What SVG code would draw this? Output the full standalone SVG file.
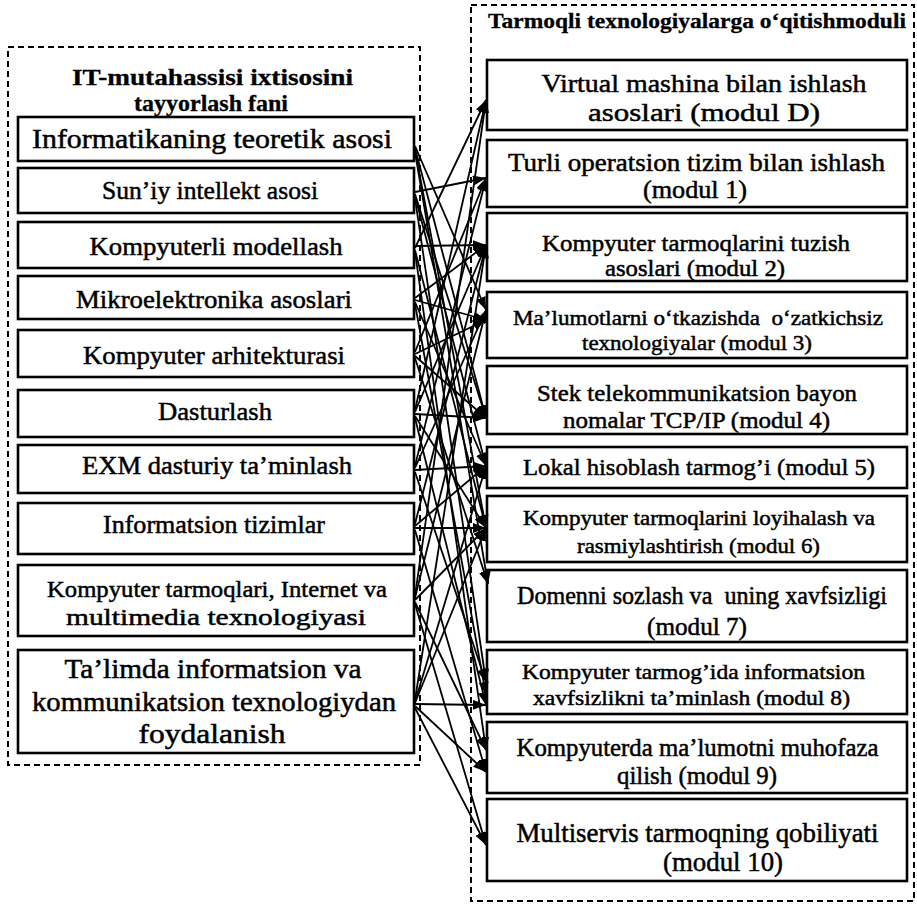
<svg xmlns="http://www.w3.org/2000/svg" width="917" height="904" viewBox="0 0 917 904">
<style>
text{font-family:"Liberation Serif","Times New Roman",serif;fill:#000;text-anchor:middle;stroke:#000;stroke-width:0.5}
.t{font-weight:bold;stroke-width:0.3}
.box{fill:#fff;stroke:#000;stroke-width:2.6}
.dash{fill:none;stroke:#000;stroke-width:2;stroke-dasharray:6 4}
.c line{stroke:#000;stroke-width:1.8;marker-end:url(#ah)}
</style>
<defs>
<marker id="ah" markerUnits="userSpaceOnUse" markerWidth="14" markerHeight="10" refX="13" refY="5" orient="auto">
<path d="M0,0 L13,5 L0,10 z" fill="#000"/>
</marker>
</defs>
<rect class="dash" x="8" y="47" width="412" height="718"/>
<rect class="dash" x="471" y="5" width="443" height="896"/>
<g id="left-title">
<text class="t" x="212.5" y="85" font-size="24" textLength="281" lengthAdjust="spacingAndGlyphs">IT-mutahassisi ixtisosini</text>
<text class="t" x="211" y="111" font-size="24" textLength="154" lengthAdjust="spacingAndGlyphs">tayyorlash fani</text>
</g>
<g id="right-title">
<text class="t" x="697" y="28" font-size="22" textLength="418" lengthAdjust="spacingAndGlyphs">Tarmoqli texnologiyalarga o‘qitishmoduli</text>
</g>
<g id="L1"><rect class="box" x="18" y="117" width="396" height="44"/><text x="212" y="148" font-size="27" textLength="360" lengthAdjust="spacingAndGlyphs">Informatikaning teoretik asosi</text></g>
<g id="L2"><rect class="box" x="18" y="168" width="396" height="45"/><text x="210" y="199" font-size="26" textLength="216" lengthAdjust="spacingAndGlyphs">Sun’iy intellekt asosi</text></g>
<g id="L3"><rect class="box" x="18" y="222" width="396" height="46"/><text x="216" y="255" font-size="26" textLength="253" lengthAdjust="spacingAndGlyphs">Kompyuterli modellash</text></g>
<g id="L4"><rect class="box" x="18" y="276" width="396" height="43"/><text x="214" y="308" font-size="26" textLength="276" lengthAdjust="spacingAndGlyphs">Mikroelektronika asoslari</text></g>
<g id="L5"><rect class="box" x="18" y="330" width="396" height="47"/><text x="214" y="364" font-size="26" textLength="262" lengthAdjust="spacingAndGlyphs">Kompyuter arhitekturasi</text></g>
<g id="L6"><rect class="box" x="18" y="390" width="396" height="47"/><text x="215" y="420" font-size="26" textLength="114" lengthAdjust="spacingAndGlyphs">Dasturlash</text></g>
<g id="L7"><rect class="box" x="18" y="445" width="396" height="48"/><text x="217" y="474" font-size="26" textLength="270" lengthAdjust="spacingAndGlyphs">EXM dasturiy ta’minlash</text></g>
<g id="L8"><rect class="box" x="18" y="503" width="396" height="51"/><text x="214" y="533" font-size="26" textLength="222" lengthAdjust="spacingAndGlyphs">Informatsion tizimlar</text></g>
<g id="L9"><rect class="box" x="18" y="565" width="396" height="71"/><text x="217" y="597" font-size="24" textLength="340" lengthAdjust="spacingAndGlyphs">Kompyuter tarmoqlari, Internet va</text><text x="216" y="625" font-size="24" textLength="300" lengthAdjust="spacingAndGlyphs">multimedia texnologiyasi</text></g>
<g id="L10"><rect class="box" x="18" y="650" width="396" height="103"/><text x="213" y="678" font-size="27" textLength="297" lengthAdjust="spacingAndGlyphs">Ta’limda informatsion va</text><text x="214" y="711" font-size="27" textLength="364" lengthAdjust="spacingAndGlyphs">kommunikatsion texnologiydan</text><text x="212" y="743" font-size="27" textLength="147" lengthAdjust="spacingAndGlyphs">foydalanish</text></g>
<g id="R1"><rect class="box" x="487" y="60" width="420" height="70"/><text x="704" y="92" font-size="26" textLength="325" lengthAdjust="spacingAndGlyphs">Virtual mashina bilan ishlash</text><text x="704" y="121" font-size="26" textLength="232" lengthAdjust="spacingAndGlyphs">asoslari (modul D)</text></g>
<g id="R2"><rect class="box" x="487" y="140" width="420" height="67"/><text x="696.5" y="171" font-size="25" textLength="377" lengthAdjust="spacingAndGlyphs">Turli operatsion tizim bilan ishlash</text><text x="695" y="198" font-size="25" textLength="104" lengthAdjust="spacingAndGlyphs">(modul 1)</text></g>
<g id="R3"><rect class="box" x="487" y="213" width="420" height="68"/><text x="696" y="251" font-size="23" textLength="308" lengthAdjust="spacingAndGlyphs">Kompyuter tarmoqlarini tuzish</text><text x="695" y="276" font-size="23" textLength="180" lengthAdjust="spacingAndGlyphs">asoslari (modul 2)</text></g>
<g id="R4"><rect class="box" x="487" y="292" width="420" height="66"/><text x="698" y="325" font-size="22" textLength="370" lengthAdjust="spacingAndGlyphs" xml:space="preserve">Ma’lumotlarni o‘tkazishda  o‘zatkichsiz</text><text x="697" y="350" font-size="22" textLength="230" lengthAdjust="spacingAndGlyphs">texnologiyalar (modul 3)</text></g>
<g id="R5"><rect class="box" x="487" y="366" width="420" height="68"/><text x="697" y="401" font-size="24" textLength="320" lengthAdjust="spacingAndGlyphs">Stek telekommunikatsion bayon</text><text x="696.5" y="428" font-size="24" textLength="267" lengthAdjust="spacingAndGlyphs">nomalar TCP/IP (modul 4)</text></g>
<g id="R6"><rect class="box" x="487" y="447" width="420" height="41"/><text x="699" y="475" font-size="24" textLength="352" lengthAdjust="spacingAndGlyphs">Lokal hisoblash tarmog’i (modul 5)</text></g>
<g id="R7"><rect class="box" x="487" y="496" width="420" height="66"/><text x="699" y="525" font-size="22" textLength="352" lengthAdjust="spacingAndGlyphs">Kompyuter tarmoqlarini loyihalash va</text><text x="698.5" y="553" font-size="22" textLength="243" lengthAdjust="spacingAndGlyphs">rasmiylashtirish (modul 6)</text></g>
<g id="R8"><rect class="box" x="487" y="570" width="420" height="72"/><text x="702" y="604" font-size="25" textLength="370" lengthAdjust="spacingAndGlyphs" xml:space="preserve">Domenni sozlash va  uning xavfsizligi</text><text x="697" y="635" font-size="25" textLength="100" lengthAdjust="spacingAndGlyphs">(modul 7)</text></g>
<g id="R9"><rect class="box" x="487" y="650" width="420" height="64"/><text x="693.5" y="679" font-size="22" textLength="343" lengthAdjust="spacingAndGlyphs">Kompyuter tarmog’ida informatsion</text><text x="691.5" y="705" font-size="22" textLength="317" lengthAdjust="spacingAndGlyphs">xavfsizlikni ta’minlash (modul 8)</text></g>
<g id="R10"><rect class="box" x="487" y="722" width="420" height="71"/><text x="697.5" y="756" font-size="25" textLength="362" lengthAdjust="spacingAndGlyphs">Kompyuterda ma’lumotni muhofaza</text><text x="697" y="784" font-size="25" textLength="160" lengthAdjust="spacingAndGlyphs">qilish (modul 9)</text></g>
<g id="R11"><rect class="box" x="487" y="799" width="420" height="82"/><text x="697.5" y="842" font-size="27" textLength="362" lengthAdjust="spacingAndGlyphs">Multiservis tarmoqning qobiliyati</text><text x="723" y="871" font-size="27" textLength="120" lengthAdjust="spacingAndGlyphs">(modul 10)</text></g>
<g id="connectors" class="c">
<line x1="415" y1="146" x2="486" y2="310"/>
<line x1="415" y1="148" x2="486" y2="418"/>
<line x1="415" y1="150" x2="486" y2="528"/>
<line x1="415" y1="152" x2="488" y2="584"/>
<line x1="415" y1="192" x2="486" y2="178"/>
<line x1="415" y1="194" x2="486" y2="418"/>
<line x1="415" y1="196" x2="486" y2="466"/>
<line x1="415" y1="198" x2="486" y2="682"/>
<line x1="415" y1="248" x2="486" y2="100"/>
<line x1="415" y1="246" x2="486" y2="245"/>
<line x1="415" y1="250" x2="486" y2="528"/>
<line x1="415" y1="252" x2="486" y2="750"/>
<line x1="415" y1="298" x2="486" y2="245"/>
<line x1="415" y1="300" x2="486" y2="320"/>
<line x1="415" y1="302" x2="486" y2="466"/>
<line x1="415" y1="304" x2="486" y2="695"/>
<line x1="415" y1="352" x2="486" y2="178"/>
<line x1="415" y1="354" x2="486" y2="320"/>
<line x1="415" y1="356" x2="486" y2="418"/>
<line x1="415" y1="358" x2="488" y2="584"/>
<line x1="415" y1="410" x2="486" y2="100"/>
<line x1="415" y1="412" x2="486" y2="245"/>
<line x1="415" y1="414" x2="486" y2="418"/>
<line x1="415" y1="416" x2="486" y2="528"/>
<line x1="415" y1="418" x2="486" y2="705"/>
<line x1="415" y1="466" x2="486" y2="178"/>
<line x1="415" y1="468" x2="486" y2="310"/>
<line x1="415" y1="470" x2="486" y2="466"/>
<line x1="415" y1="472" x2="486" y2="682"/>
<line x1="415" y1="524" x2="486" y2="245"/>
<line x1="415" y1="526" x2="486" y2="466"/>
<line x1="415" y1="528" x2="486" y2="528"/>
<line x1="415" y1="530" x2="486" y2="772"/>
<line x1="415" y1="596" x2="486" y2="100"/>
<line x1="415" y1="598" x2="486" y2="310"/>
<line x1="415" y1="600" x2="486" y2="528"/>
<line x1="415" y1="602" x2="486" y2="750"/>
<line x1="415" y1="604" x2="486" y2="845"/>
<line x1="415" y1="700" x2="486" y2="245"/>
<line x1="415" y1="702" x2="486" y2="466"/>
<line x1="415" y1="703" x2="486" y2="528"/>
<line x1="415" y1="704" x2="486" y2="705"/>
<line x1="415" y1="706" x2="486" y2="772"/>
<line x1="415" y1="708" x2="486" y2="845"/>
</g>
</svg>
